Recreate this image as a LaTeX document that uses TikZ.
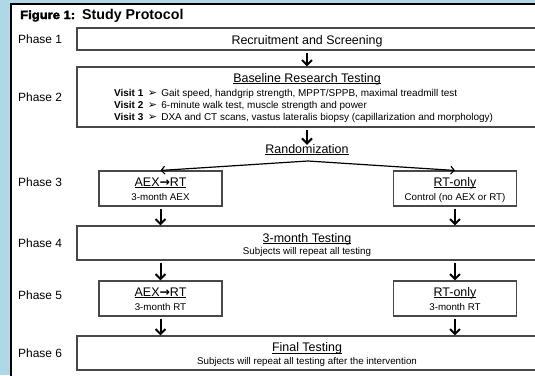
\documentclass[tikz,border=0pt]{standalone}
\usepackage{graphicx}
\usepackage{fontspec}
\setmainfont{Liberation Sans}
\newfontfamily\dejavu{DejaVu Sans}
\newfontfamily\figfont[FakeBold=2.5]{Liberation Sans Bold}
\usetikzlibrary{arrows.meta}
\definecolor{bgblue}{RGB}{174,216,230}
\definecolor{boxline}{RGB}{72,72,72}
\newcommand{\bul}{{\dejavu\fontsize{11}{12}\selectfont ➢}}
\newcommand{\rarr}{{\dejavu\bfseries →}}
\newcommand{\uln}[1]{\leavevmode\setbox0=\hbox{#1}\rlap{\rule[-2.1bp]{\wd0}{0.9bp}}\box0}
\begin{document}
\begin{tikzpicture}[x=1bp,y=-1bp,
  box/.style={draw=boxline, line width=1.1bp, fill=white, inner sep=0pt},
  bigbox/.style={box, minimum width=460bp},
  smallbox/.style={box, minimum width=123bp, minimum height=35bp},
  phaselbl/.style={anchor=base west, inner sep=0pt, font=\fontsize{12}{14}\selectfont},
  ttl/.style={anchor=base, inner sep=0pt, font=\fontsize{12.5}{14}\selectfont},
  sub/.style={anchor=base, inner sep=0pt, font=\fontsize{9.8}{12}\selectfont},
  visit/.style={anchor=base west, inner sep=0pt, font=\fontsize{10}{12}\selectfont},
  flow/.style={line width=2bp, shorten <=2bp, -{Straight Barb[length=5bp,width=10bp,line width=2bp]}},
  split/.style={line width=1.2bp, -{Straight Barb[length=3.5bp,width=8bp,line width=1.2bp]}}
]
\clip (0,0) rectangle (535,375);
\fill[bgblue] (0,0) rectangle (535,375);
\fill[white] (11,4) rectangle (545,385);
\draw[line width=2bp] (11,385) -- (11,4) -- (545,4);

% title
\node[anchor=base west, inner sep=0pt] (fig) at (20,19)
  {\resizebox{55bp}{8.6bp}{\figfont\fontsize{12}{14}\selectfont Figure 1:}};
\node[anchor=base west, inner sep=0pt, font=\fontsize{14.3}{16}\selectfont\bfseries] (title) at (82,19) {Study Protocol};

% phase labels
\node[phaselbl] (ph1) at (18,43.5) {Phase 1};
\node[phaselbl] (ph2) at (18,101.5) {Phase 2};
\node[phaselbl] (ph3) at (18,186.5) {Phase 3};
\node[phaselbl] (ph4) at (18,247.5) {Phase 4};
\node[phaselbl] (ph5) at (18,299.5) {Phase 5};
\node[phaselbl] (ph6) at (18,357.5) {Phase 6};

% boxes
\node[bigbox, minimum height=22bp] (p1) at (307,39) {};
\node[bigbox, minimum height=60bp] (p2) at (307,97) {};
\node[smallbox] (l3) at (160.5,188.5) {};
\node[smallbox] (r3) at (455,188.5) {};
\node[bigbox, minimum height=34bp] (p4) at (307,243) {};
\node[smallbox] (l5) at (160.5,298.5) {};
\node[smallbox] (r5) at (455,298.5) {};
\node[bigbox, minimum height=34bp] (p6) at (307,353) {};

% texts
\node[ttl] (t1) at (307,44.5) {Recruitment and Screening};
\node[ttl] (t2) at (307,82) {\uln{Baseline Research Testing}};
\node[visit] (v1) at (114,96.5) {\textbf{Visit 1}\, \bul\, Gait speed, handgrip strength, MPPT/SPPB, maximal treadmill test};
\node[visit] (v2) at (114,108.5) {\textbf{Visit 2}\, \bul\, 6-minute walk test, muscle strength and power};
\node[visit] (v3) at (114,120) {\textbf{Visit 3}\, \bul\, DXA and CT scans, vastus lateralis biopsy (capillarization and morphology)};
\node[ttl] (rand) at (307,153) {\uln{Randomization}};
\node[ttl] (t3l) at (160.5,186) {\uln{AEX\rarr RT}};
\node[sub] (s3l) at (160.5,200) {3-month AEX};
\node[ttl] (t3r) at (455,186) {\uln{RT-only}};
\node[sub] (s3r) at (455,200) {Control (no AEX or RT)};
\node[ttl] (t4) at (307,242) {\uln{3-month Testing}};
\node[sub] (s4) at (307,254) {Subjects will repeat all testing};
\node[ttl] (t5l) at (160.5,296) {\uln{AEX\rarr RT}};
\node[sub] (s5l) at (160.5,310) {3-month RT};
\node[ttl] (t5r) at (455,296) {\uln{RT-only}};
\node[sub] (s5r) at (455,310) {3-month RT};
\node[ttl] (t6) at (307,351.5) {\uln{Final Testing}};
\node[sub] (s6) at (307,364.5) {Subjects will repeat all testing after the intervention};

% connectors
\draw[flow] (p1.south) -- (p2.north);
\draw[flow] (p2.south) -- ([yshift=-1bp]rand.north);
\coordinate (splitpt) at (308,161);
\draw[split] (splitpt) -- (l3.north);
\draw[split] (splitpt) -- (r3.north);
\draw[flow] (l3.south) -- (l3.south |- p4.north);
\draw[flow] (r3.south) -- (r3.south |- p4.north);
\draw[flow] (l3.south |- p4.south) -- (l5.north);
\draw[flow] (r3.south |- p4.south) -- (r5.north);
\draw[flow] (l5.south) -- (l5.south |- p6.north);
\draw[flow] (r5.south) -- (r5.south |- p6.north);
\end{tikzpicture}
\end{document}
